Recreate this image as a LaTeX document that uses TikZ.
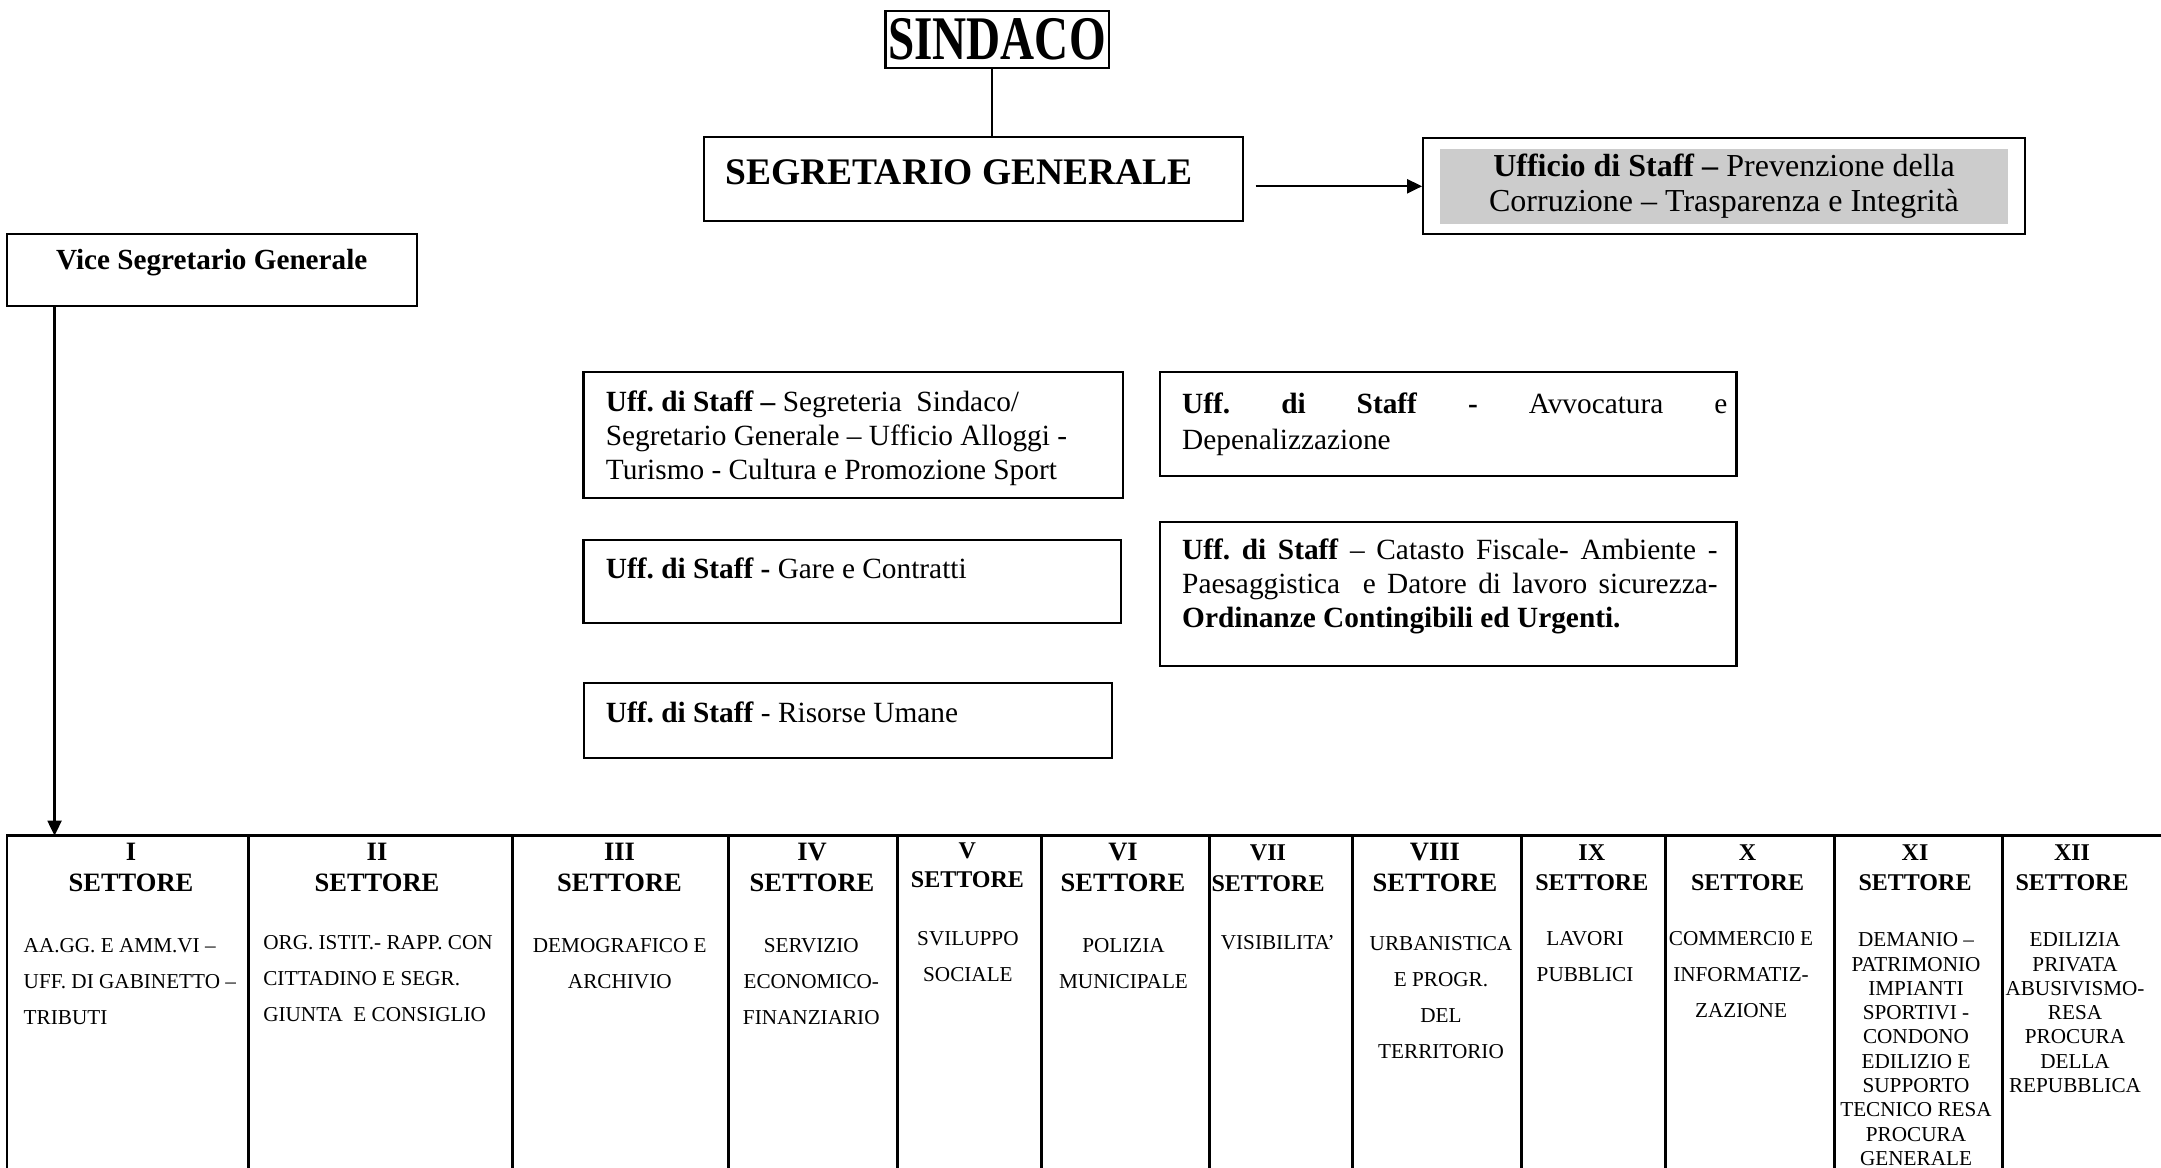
\documentclass[tikz,border=0pt]{standalone}
\usepackage{fontspec}
\setmainfont{Liberation Serif}
\usepackage{graphicx}
\usepackage{xcolor}
\usetikzlibrary{positioning,arrows.meta}
\AtBeginDocument{\frenchspacing}

\begin{document}
\begin{tikzpicture}[
        x=0.01cm, y=-0.01cm,
        box/.style={draw, line width=0.6pt, inner sep=0pt},
        cell/.style={draw, line width=0.85pt, inner sep=0pt, outer sep=0pt, minimum height=4.2cm},
        lbl/.style={inner sep=0pt, font=\fontsize{8.34}{9.62}\selectfont},
        hdr/.style={inner sep=0pt, anchor=north, align=center, font=\fontsize{7.54}{8.82}\selectfont\bfseries},
        hdrsmall/.style={hdr, font=\fontsize{6.83}{8.54}\selectfont\bfseries},
        body/.style={inner sep=0pt, anchor=north, align=center, font=\fontsize{6.03}{10.24}\selectfont},
        tight/.style={body, font=\fontsize{6.03}{6.91}\selectfont},
        arrow/.style={-{Triangle[length=1.5mm, width=1.4mm]}, line width=0.6pt}
    ]
        \useasboundingbox (0,0) rectangle (2161,1168);

        % Top: Sindaco and Segretario Generale
        \node[box, minimum width=2.23cm, minimum height=0.576cm, font=\fontsize{17.64}{20}\selectfont\bfseries] (sindaco) at (997,39.5) {\scalebox{0.76}[1]{SINDACO}};
        \node[box, minimum width=5.387cm, minimum height=0.837cm] (segr) at (973.25,179.15) {};
        \node[lbl, anchor=base west, font=\fontsize{10.67}{12}\selectfont\bfseries] (segr-l) at (724.8,184.3) {SEGRETARIO GENERALE};
        \coordinate (sdown) at ([xshift=-0.05cm]sindaco.south);
        \draw[line width=0.6pt] (sdown) -- (sdown |- segr.north);

        % Staff office on the right of the Segretario
        \node[box, minimum width=6.019cm, minimum height=0.96cm] (uff) at (1724.25,186.3) {};
        \node[fill=black!20, inner sep=0pt, minimum width=5.685cm, minimum height=0.744cm] (uffbg) at (1724.05,186.5) {};
        \node[lbl, anchor=north, align=center, font=\fontsize{9.1}{9.96}\selectfont] (uff-l) at (1724,153.1) {\textbf{Ufficio di Staff –} Prevenzione della\\Corruzione – Trasparenza e Integrità};
        \draw[arrow] ([xshift=-1.663cm]uff.west) -- (uff.west);

        % Vice Segretario
        \node[box, minimum width=4.094cm, minimum height=0.72cm] (vice) at (212,270) {};
        \node[lbl, anchor=base, font=\fontsize{8.3}{9.5}\selectfont\bfseries] (vice-l) at (211.7,270) {Vice Segretario Generale};

        % Staff offices, left column
        \node[box, minimum width=5.389cm, minimum height=1.26cm] (stA) at (853.15,434.7) {};
        \node[lbl, anchor=north west, align=left] (stA-l) at (605.2,390) {\textbf{Uff. di Staff –} Segreteria\ \ Sindaco/\\Segretario Generale – Ufficio Alloggi -\\Turismo - Cultura e Promozione Sport};
        \node[box, minimum width=5.369cm, minimum height=0.833cm] (stB) at (852.15,581.65) {};
        \node[lbl, anchor=base west] (stB-l) at (605.2,578.3) {\textbf{Uff. di Staff -} Gare e Contratti};
        \node[box, minimum width=5.285cm, minimum height=0.756cm] (stC) at (847.95,720.5) {};
        \node[lbl, anchor=base west] (stC-l) at (605.2,723) {\textbf{Uff. di Staff} - Risorse Umane};

        % Staff offices, right column
        \node[box, minimum width=5.765cm, minimum height=1.043cm] (stD) at (1448.05,423.85) {};
        \node[lbl, anchor=north west, align=left, font=\fontsize{8.34}{10.41}\selectfont] (stD-l) at (1181.5,391.7) {\makebox[5.449cm][s]{\textbf{Uff. di Staff -} Avvocatura e}\\Depenalizzazione};
        \node[box, minimum width=5.765cm, minimum height=1.437cm] (stE) at (1448.05,594.15) {};
        \node[lbl, anchor=north west, align=left, font=\fontsize{8.34}{9.76}\selectfont] (stE-l) at (1181.5,538) {\makebox[5.35cm][s]{\textbf{Uff. di Staff} – Catasto Fiscale- Ambiente -}\\\makebox[5.35cm][s]{Paesaggistica\ \ e Datore di lavoro sicurezza-}\\\textbf{Ordinanze Contingibili ed Urgenti.}};

        % Sector table
        \node[cell, minimum width=2.41cm, anchor=north west] (s1) at (7,835.7) {};
        \node[cell, minimum width=2.64cm, right=0cm of s1] (s2) {};
        \node[cell, minimum width=2.165cm, right=0cm of s2] (s3) {};
        \node[cell, minimum width=1.68cm, right=0cm of s3] (s4) {};
        \node[cell, minimum width=1.442cm, right=0cm of s4] (s5) {};
        \node[cell, minimum width=1.676cm, right=0cm of s5] (s6) {};
        \node[cell, minimum width=1.437cm, right=0cm of s6] (s7) {};
        \node[cell, minimum width=1.684cm, right=0cm of s7] (s8) {};
        \node[cell, minimum width=1.442cm, right=0cm of s8] (s9) {};
        \node[cell, minimum width=1.684cm, right=0cm of s9] (s10) {};
        \node[cell, minimum width=1.68cm, right=0cm of s10] (s11) {};
        \node[cell, minimum width=2.49cm, right=0cm of s11] (s12) {};

        \coordinate (vdown) at ([xshift=0.484cm]vice.south west);
        \draw[arrow] (vdown) -- (vdown |- s1.north);

        % Sector headings
        \node[hdr] (h1) at (131,842.5) {I\\SETTORE};
        \node[hdr] (h2) at (377,842.5) {II\\SETTORE};
        \node[hdr] (h3) at (619.5,842.5) {III\\SETTORE};
        \node[hdr] (h4) at (812,842.5) {IV\\SETTORE};
        \node[hdrsmall, font=\fontsize{6.83}{8.08}\selectfont\bfseries] (h5) at (967.4,842.4) {V\\SETTORE};
        \node[hdr] (h6) at (1123,842.5) {VI\\SETTORE};
        \node[hdrsmall, font=\fontsize{6.83}{8.82}\selectfont\bfseries] (h7) at (1268,844.1) {VII\\SETTORE};
        \node[hdr] (h8) at (1435,842.5) {VIII\\SETTORE};
        \node[hdrsmall] (h9) at (1591.8,844.1) {IX\\SETTORE};
        \node[hdrsmall] (h10) at (1747.5,844.1) {X\\SETTORE};
        \node[hdrsmall] (h11) at (1915,844.1) {XI\\SETTORE};
        \node[hdrsmall] (h12) at (2072,844.1) {XII\\SETTORE};

        % Sector contents
        \node[body, anchor=north west, align=left] (b1) at (23,937.7) {AA.GG. E AMM.VI –\\UFF. DI GABINETTO –\\TRIBUTI};
        \node[body, anchor=north west, align=left] (b2) at (262.6,934.3) {ORG. ISTIT.- RAPP. CON\\CITTADINO E SEGR.\\GIUNTA\ \ E CONSIGLIO};
        \node[body] (b3) at (619.8,937.7) {DEMOGRAFICO E\\ARCHIVIO};
        \node[body] (b4) at (811.3,937.7) {SERVIZIO\\ECONOMICO-\\FINANZIARIO};
        \node[body] (b5) at (967.9,931) {SVILUPPO\\SOCIALE};
        \node[body] (b6) at (1123.5,937.7) {POLIZIA\\MUNICIPALE};
        \node[body] (b7) at (1277.7,934.3) {VISIBILITA’};
        \node[body] (b8) at (1441,936) {URBANISTICA\\E PROGR.\\DEL\\TERRITORIO};
        \node[body] (b9) at (1585,931) {LAVORI\\PUBBLICI};
        \node[body] (b10) at (1741,931) {COMMERCI0 E\\INFORMATIZ-\\ZAZIONE};
        \node[tight] (b11) at (1916,932) {DEMANIO –\\PATRIMONIO\\IMPIANTI\\SPORTIVI -\\CONDONO\\EDILIZIO E\\SUPPORTO\\TECNICO RESA\\PROCURA\\GENERALE};
        \node[tight] (b12) at (2075,932) {EDILIZIA\\PRIVATA\\ABUSIVISMO-\\RESA\\PROCURA\\DELLA\\REPUBBLICA};
    \end{tikzpicture}
\end{document}
